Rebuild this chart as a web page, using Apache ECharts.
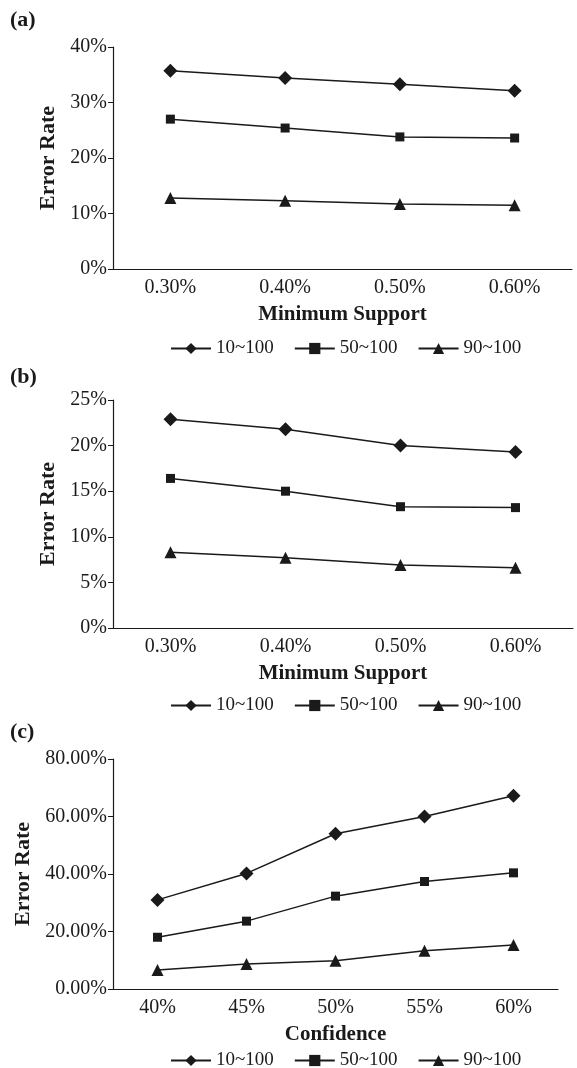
<!DOCTYPE html>
<html>
<head>
<meta charset="utf-8">
<style>
  html, body { margin: 0; padding: 0; background: #fff; }
  #chart { width: 577px; height: 1068px; }
</style>
<script src="https://cdn.jsdelivr.net/npm/echarts@6/dist/echarts.min.js"></script>
</head>
<body>
<div id="chart"></div>
<script>
// ---- data ----
var seriesNames = ['10~100', '50~100', '90~100'];
var supportCats = ['0.30%', '0.40%', '0.50%', '0.60%'];
var confCats = ['40%', '45%', '50%', '55%', '60%'];

var a_10 = [35.7, 34.4, 33.3, 32.1];
var a_50 = [27.0, 25.4, 23.8, 23.6];
var a_90 = [12.8, 12.3, 11.7, 11.5];

var b_10 = [22.9, 21.8, 20.0, 19.3];
var b_50 = [16.4, 15.0, 13.3, 13.2];
var b_90 = [8.3, 7.7, 6.9, 6.6];

var c_10 = [31.0, 40.2, 54.0, 60.0, 67.2];
var c_50 = [18.0, 23.6, 32.3, 37.4, 40.4];
var c_90 = [6.6, 8.7, 9.8, 13.3, 15.3];

var panelLabels = ['(a)', '(b)', '(c)'];
var xNames = ['Minimum Support', 'Minimum Support', 'Confidence'];
var yName = 'Error Rate';

// ---- styling ----
var FONT = '"Liberation Serif", "DejaVu Serif", serif';
var INK = '#1a1a1a';
var symbols = ['diamond', 'rect', 'triangle'];
var symSizes = [14, 9, 12];

var grids = [
  { left: 113, top: 47, width: 459, height: 222 },
  { left: 113, top: 400, width: 460, height: 228 },
  { left: 113, top: 759, width: 445, height: 230 }
];
var yCfg = [
  { max: 40, interval: 10, dec: 0, gap: 51 },
  { max: 25, interval: 5, dec: 0, gap: 51 },
  { max: 80, interval: 20, dec: 2, gap: 73 }
];
var legendTops = [334, 691, 1046];
var labelTops = [9, 366, 721];
var cats = [supportCats, supportCats, confCats];
var data = [[a_10, a_50, a_90], [b_10, b_50, b_90], [c_10, c_50, c_90]];

var xAxes = [], yAxes = [], series = [], legends = [], graphics = [];
for (var p = 0; p < 3; p++) {
  // main x axis: ticks at boundaries
  xAxes.push({
    type: 'category', gridIndex: p, data: cats[p], boundaryGap: true,
    name: xNames[p], nameLocation: 'middle', nameGap: 35,
    nameTextStyle: { fontFamily: FONT, fontWeight: 'bold', fontSize: 21, color: INK },
    axisLine: { lineStyle: { color: INK, width: 1.2 } },
    axisTick: { inside: true, length: 4, alignWithLabel: false, lineStyle: { color: INK } },
    axisLabel: { fontFamily: FONT, fontSize: 20, color: INK, margin: 9 },
    splitLine: { show: false }
  });
  yAxes.push({
    type: 'value', gridIndex: p, min: 0, max: yCfg[p].max, interval: yCfg[p].interval,
    name: yName, nameLocation: 'middle', nameGap: yCfg[p].gap, nameRotate: 90,
    nameTextStyle: { fontFamily: FONT, fontWeight: 'bold', fontSize: 22, color: INK },
    axisLine: { show: true, lineStyle: { color: INK, width: 1.2 } },
    axisTick: { show: true, length: 5, lineStyle: { color: INK } },
    axisLabel: {
      fontFamily: FONT, fontSize: 20, color: INK, margin: 6,
      formatter: (function (d) { return function (v) { return v.toFixed(d) + '%'; }; })(yCfg[p].dec)
    },
    splitLine: { show: false }
  });
  for (var s = 0; s < 3; s++) {
    series.push({
      type: 'line', name: seriesNames[s], xAxisIndex: p, yAxisIndex: p,
      data: data[p][s], symbol: symbols[s], symbolSize: symSizes[s],
      lineStyle: { color: INK, width: 1.5 },
      itemStyle: { color: INK, borderWidth: 0 },
      animation: false
    });
  }
  legends.push({
    data: seriesNames, left: 165, top: legendTops[p], itemWidth: 40, itemHeight: 14,
    itemGap: 20,
    textStyle: { fontFamily: FONT, fontSize: 19, color: INK },
    selectedMode: false
  });
  graphics.push({
    type: 'text', left: 10, top: labelTops[p],
    style: { text: panelLabels[p], font: 'bold 22px ' + FONT, fill: INK }
  });
}
// secondary x axes: ticks at category centers
for (var q = 0; q < 3; q++) {
  xAxes.push({
    type: 'category', gridIndex: q, data: cats[q], boundaryGap: true, position: 'bottom',
    axisLine: { show: false },
    axisTick: { inside: true, length: 4, alignWithLabel: true, lineStyle: { color: INK } },
    axisLabel: { show: false },
    splitLine: { show: false }
  });
}

var chart = echarts.init(document.getElementById('chart'), null, { renderer: 'canvas' });
chart.setOption({
  backgroundColor: '#fff',
  animation: false,
  grid: grids,
  xAxis: xAxes,
  yAxis: yAxes,
  legend: legends,
  series: series,
  graphic: graphics
});
</script>
</body>
</html>
